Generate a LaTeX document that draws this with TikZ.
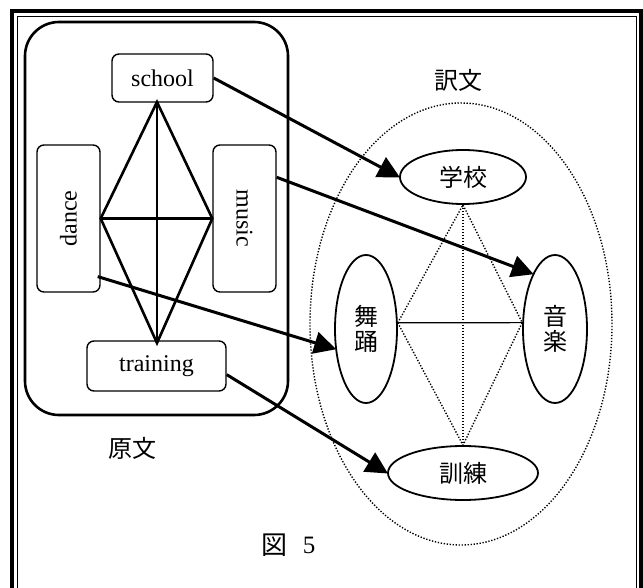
\documentclass[tikz,border=0pt]{standalone}
\usepackage{fontspec}
\setmainfont{Liberation Serif}
\newfontfamily\cjk{Noto Sans CJK JP}
\usetikzlibrary{shapes.geometric,arrows.meta}

\tikzset{
  srcbox/.style={draw, line width=1.4pt, rounded corners=7pt, inner sep=0pt,
    font=\fontsize{24}{26}\selectfont},
  tgtell/.style={draw, ellipse, line width=1.8pt, inner sep=0pt,
    font=\cjk\fontsize{24}{24.5}\selectfont, align=center},
  rel/.style={line width=2.6pt},
  map/.style={line width=3pt, -{Triangle[length=22pt,width=22pt]}, shorten >=-1pt},
  dots/.style={line width=1.4pt, dash pattern=on 1.3pt off 1.7pt},
  caption/.style={font=\cjk\fontsize{24}{25}\selectfont, inner sep=0pt}
}

\begin{document}
\begin{tikzpicture}[x=1pt,y=-1pt]
\useasboundingbox (0,0) rectangle (643,588);
\fill[white] (0,0) rectangle (643,588);

% double frame, open at the bottom
\draw[line width=4pt] (12,590) -- (12,11) -- (641,11) -- (641,590);
\draw[line width=1.6pt] (17.5,590) -- (17.5,16.5) -- (636.5,16.5) -- (636.5,590);

% source group
\draw[line width=2.6pt, rounded corners=34pt] (25,22) rectangle (288,415);

\node[srcbox, minimum width=101pt, minimum height=48pt] (school) at (162.5,78) {school};
\node[srcbox, minimum width=63pt, minimum height=147pt] (dance) at (68.5,218.5) {};
\node[rotate=90, font=\fontsize{24}{26}\selectfont, inner sep=0pt] (dancet) at (dance.center) {dance};
\node[srcbox, minimum width=63pt, minimum height=147pt] (music) at (244.5,218.5) {};
\node[rotate=-90, font=\fontsize{24}{26}\selectfont, inner sep=0pt] (musict) at (music.center) {music};
\node[srcbox, minimum width=139pt, minimum height=50pt] (training) at (156.5,366) {training};

\coordinate (dtop) at (157,102);
\coordinate (dbot) at (157,343);

\draw[rel] (dtop) -- (dance.east) -- (dbot) -- (music.west) -- cycle;
\draw[rel] (dtop) -- (dbot);
\draw[rel] (dance.east) -- (music.west);

\node[caption] (gen) at (132,448) {原文};

% target group
\node[draw, ellipse, dots, minimum width=302pt, minimum height=442pt, inner sep=0pt] (tgt) at (461,324) {};
\node[caption] (yaku) at (458,80) {訳文};

\node[tgtell, minimum width=126pt, minimum height=54pt] (xuexiao) at (463,177) {学校};
\node[tgtell, minimum width=62pt, minimum height=148pt] (wuyong) at (366,329) {舞\\踊};
\node[tgtell, minimum width=64pt, minimum height=148pt] (yinyue) at (555,329) {音\\楽};
\node[tgtell, minimum width=150pt, minimum height=54pt] (xunlian) at (463,473) {訓練};

\draw[dots] (xuexiao.south) -- (xunlian.north);
\draw[dots] (wuyong.11) -- (xuexiao.south) -- (yinyue.169);
\draw[dots] (wuyong.11) -- (xunlian.north) -- (yinyue.169);
\draw[line width=1.2pt] (wuyong.11) -- (yinyue.169);

% mappings
\draw[map] (school.east) -- (xuexiao.west);
\draw[map] (music.52) -- (yinyue.112);
\draw[map] ([xshift=-3pt]dance.-61) -- (wuyong.213);
\draw[map] (training.-7) -- (xunlian.west);

% figure caption
\node[caption, font=\cjk\fontsize{26}{28}\selectfont] (zu) at (274,545) {図};
\node[font=\fontsize{25}{28}\selectfont, inner sep=0pt] (five) at (309,545) {5};
\end{tikzpicture}
\end{document}
